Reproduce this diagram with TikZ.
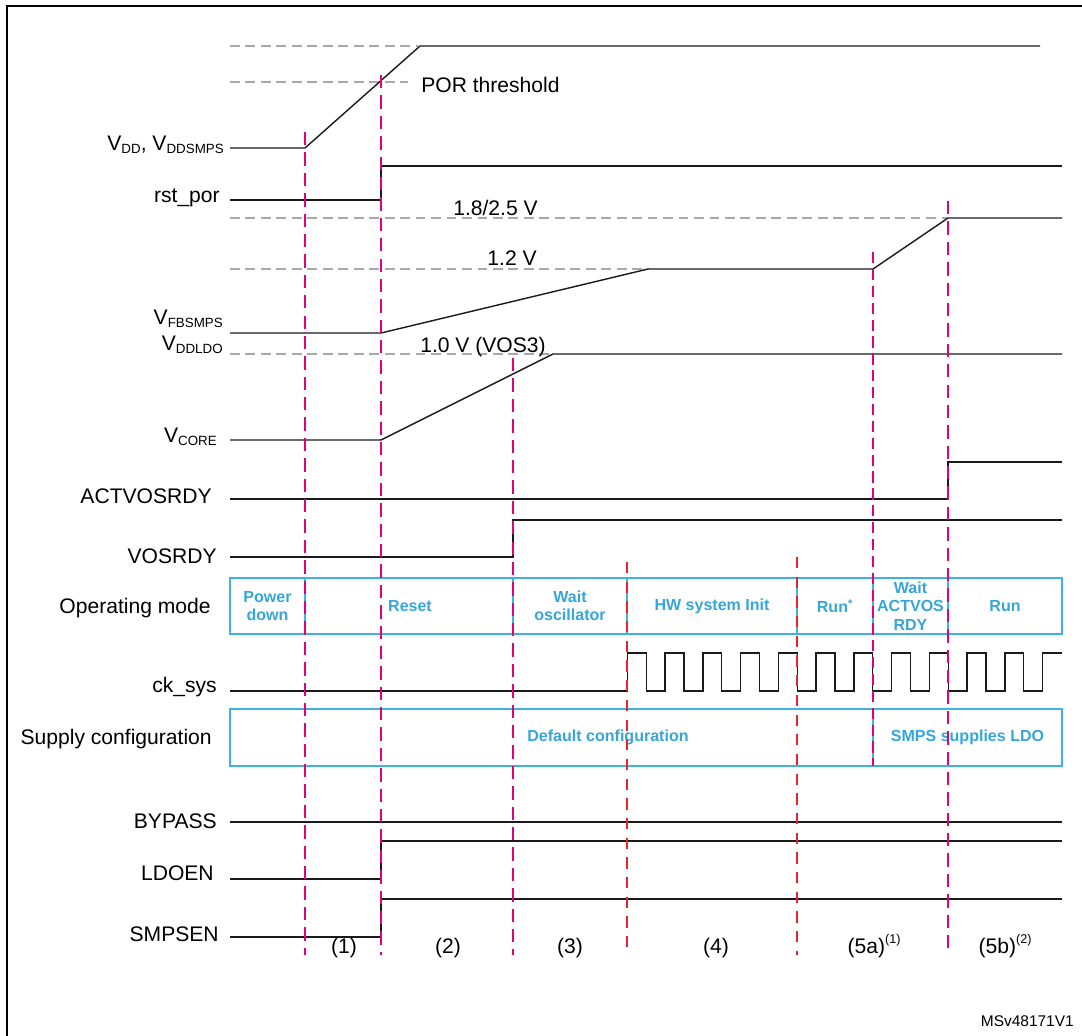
\documentclass[tikz,border=0pt]{standalone}
\usepackage{fontspec}
\setmainfont{Liberation Sans}
\usepackage{xcolor}
\usepackage{tikz}
\usetikzlibrary{
  fit
}
\definecolor{ModeBlue}{HTML}{3FB1E3}
\definecolor{ModeText}{HTML}{36A6DA}
\definecolor{MarkMagenta}{HTML}{E3007D}
\definecolor{MarkRed}{HTML}{E8232C}
\definecolor{GuideGray}{HTML}{A8A8A8}
\definecolor{WaveBlack}{HTML}{1A1A1A}
\newcommand{\lowsub}[1]{\raisebox{-2.2pt}{\fontsize{9.5}{10}\selectfont #1}}
\newcommand{\highsup}[1]{\raisebox{6.5pt}{\fontsize{9}{10}\selectfont #1}}
\tikzset{
  sigtext/.style={
    font=\fontsize{15}{17}\selectfont,
    inner sep=0pt
  },
  siglabel/.style={
    sigtext,
    anchor=base east
  },
  phaselabel/.style={
    sigtext,
    anchor=base
  },
  wave/.style={
    draw=WaveBlack,
    line width=1pt
  },
  guide/.style={
    draw=GuideGray,
    line width=1.1pt,
    dash pattern=on 7pt off 4pt
  },
  phasemajor/.style={
    draw=MarkMagenta,
    line width=1.8pt,
    dash pattern=on 9.5pt off 5pt
  },
  phasemid/.style={
    draw=MarkMagenta,
    line width=1.2pt,
    dash pattern=on 8pt off 4pt
  },
  phaseminor/.style={
    draw=MarkRed,
    line width=0.9pt,
    dash pattern=on 8pt off 6pt
  },
  cell/.style={
    draw=ModeBlue,
    line width=1.1pt,
    inner sep=0pt
  },
  celltext/.style={
    inner sep=0pt,
    align=center,
    text=ModeText,
    font=\fontsize{11.4}{13}\selectfont\bfseries
  },
  framebox/.style={
    draw=black,
    line width=1.5pt
  }
}

\begin{document}
\begin{tikzpicture}[x=0.025cm, y=-0.025cm]

  \useasboundingbox (0,0) rectangle (1082,1035);

  \draw[framebox] (7,1060) -- (7,6) -- (1100,6);

  \draw[guide] (230,46) -- (418,46);
  \draw[guide] (230,82) -- (408,82);
  \draw[guide] (230,218) -- (948,218);
  \draw[guide] (230,269) -- (648,269);
  \draw[guide] (230,354) -- (553,354);

  \node[sigtext, anchor=base west] (por) at (421,92) {POR threshold};
  \node[sigtext, anchor=base west] (vhigh) at (453,215) {1.8/2.5 V};
  \node[sigtext, anchor=base east] (vmid) at (537,265) {1.2 V};
  \node[sigtext, anchor=base east] (vos) at (546,352) {1.0 V (VOS3)};

  \node[siglabel] (vdd) at (224,150) {V\lowsub{DD}, V\lowsub{DDSMPS}};
  \node[siglabel] (rstpor) at (220,202) {rst\_por};
  \node[siglabel] (vfb) at (223,324) {V\lowsub{FBSMPS}};
  \node[siglabel] (vddldo) at (223,350) {V\lowsub{DDLDO}};
  \node[siglabel] (vcore) at (217,442) {V\lowsub{CORE}};
  \node[siglabel] (actvosrdy) at (212,503) {ACTVOSRDY};
  \node[siglabel] (vosrdy) at (217,563) {VOSRDY};
  \node[siglabel] (opmode) at (211,613) {Operating mode};
  \node[siglabel] (cksys) at (217,692) {ck\_sys};
  \node[siglabel] (supply) at (212,744) {Supply configuration};
  \node[siglabel] (bypass) at (217,828) {BYPASS};
  \node[siglabel] (ldoen) at (214,880) {LDOEN};
  \node[siglabel] (smpsen) at (219,941) {SMPSEN};

  \draw[wave] (230,148) -- (305,148) -- (420,46) -- (1040,46);
  \draw[wave] (230,200) -- (381,200) -- (381,166) -- (1062,166);
  \draw[wave] (230,333) -- (381,333) -- (648,269) -- (873,269) -- (948,218) -- (1062,218);
  \draw[wave] (230,440) -- (381,440) -- (553,354) -- (1062,354);
  \draw[wave] (230,499) -- (948,499) -- (948,462) -- (1062,462);
  \draw[wave] (230,557) -- (513,557) -- (513,520) -- (1062,520);
  \draw[wave] (230,691) -- (627.3,691) -- (627.3,653)
    \foreach \k in {1,...,11} {
      -- ++(18.9,0) -- ++(0,38) -- ++(18.85,0) -- ++(0,-38)
    } -- (1062,653);
  \draw[wave] (230,822) -- (1062,822);
  \draw[wave] (230,879) -- (381,879) -- (381,841) -- (1062,841);
  \draw[wave] (230,937) -- (381,937) -- (381,899) -- (1062,899);

  \node[cell, fit={(230,578) (305,634)}] (powerdown) {};
  \node[cell, fit={(305,578) (513,634)}] (reset) {};
  \node[cell, fit={(513,578) (627,634)}] (waitosc) {};
  \node[cell, fit={(627,578) (797,634)}] (hwinit) {};
  \node[cell, fit={(797,578) (873,634)}] (runfirst) {};
  \node[cell, fit={(873,578) (948,634)}] (waitact) {};
  \node[cell, fit={(948,578) (1062,634)}] (runlast) {};
  \node[celltext] (powerdowntext) at (powerdown.center) {Power\\down};
  \node[celltext] (resettext) at (410,606) {Reset};
  \node[celltext] (waitosctext) at (waitosc.center) {Wait\\oscillator};
  \node[celltext] (hwinittext) at (hwinit.center) {HW system Init};
  \node[celltext] (runfirsttext) at (runfirst.center) {Run\textsuperscript{*}};
  \node[celltext] (waitacttext) at (waitact.center) {Wait\\ACTVOS\\RDY};
  \node[celltext] (runlasttext) at (runlast.center) {Run};

  \node[cell, fit={(230,709) (873,766)}] (defcfg) {};
  \node[cell, fit={(873,709) (1062,766)}] (smpscfg) {};
  \node[celltext] (defcfgtext) at (608,737.5) {Default configuration};
  \node[celltext] (smpscfgtext) at (smpscfg.center) {SMPS supplies LDO};

  \foreach \xx/\ytop/\ybot/\kind in {305/132/955/phasemajor, 381/75/955/phasemajor,
    513/358/955/phasemajor, 627/562/955/phaseminor, 797/557/955/phaseminor,
    873/252/766/phasemid, 948/201/955/phasemajor} {
    \draw[\kind] (\xx,\ytop) -- (\xx,\ybot);
  }

  \node[phaselabel] (phaseone) at (344,953) {(1)};
  \node[phaselabel] (phasetwo) at (448,953) {(2)};
  \node[phaselabel] (phasethree) at (570,953) {(3)};
  \node[phaselabel] (phasefour) at (716,953) {(4)};
  \node[phaselabel] (phasefivea) at (874,953) {(5a)\highsup{(1)}};
  \node[phaselabel] (phasefiveb) at (1005,953) {(5b)\highsup{(2)}};

  \node[
    inner sep=0pt,
    anchor=base east,
    font=\fontsize{11}{13}\selectfont
  ] (docref) at (1074,1026) {MSv48171V1};

\end{tikzpicture}
\end{document}
